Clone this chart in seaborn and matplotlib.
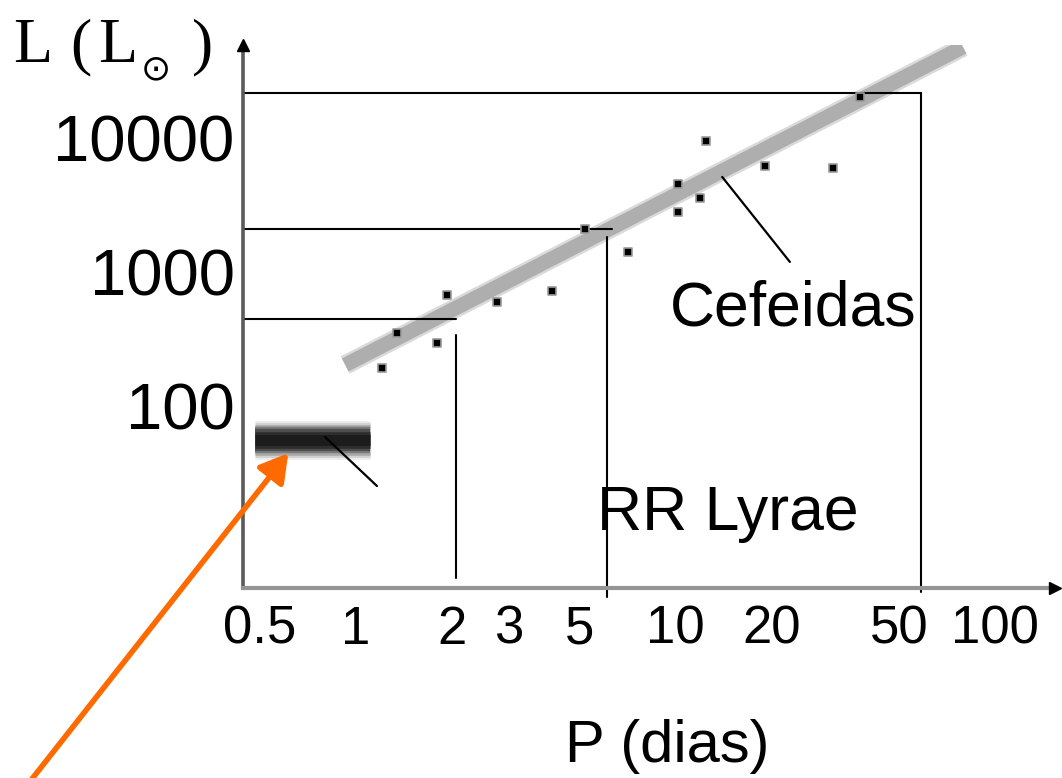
import matplotlib
matplotlib.use("Agg")
import matplotlib.pyplot as plt
from matplotlib.transforms import ScaledTranslation
import pandas as pd
import seaborn as sns

# Cepheid period (days) and luminosity (solar units)
cepheid_period = [1.21, 1.34, 1.79, 1.93, 2.76, 4.10, 5.21, 7.10, 10.2, 10.2, 11.9, 12.5, 19.1, 31.1, 37.8]
cepheid_lum = [217, 395, 333, 760, 673, 813, 2360, 1590, 5120, 3160, 4020, 10700, 6970, 6730, 22800]

# Period-luminosity trend for the Cepheids
trend_period = [0.925, 79.4]
trend_lum = [228, 53800]

# RR Lyrae strip
rr_period = [0.483, 1.106]
rr_lum = [63, 63]

# Read-off guides: luminosity level -> period
guide_lum = [24400, 2360, 502]
guide_period_h = [58.6, 6.33, 2.06]
guide_period_v = [58.6, 6.1, 2.06]
guide_v_top = [24400, 2056, 382]
guide_v_bottom = [4.6, 4.24, 5.87]

# Label pointers
cef_ptr_period = [14.0, 22.8]
cef_ptr_lum = [5770, 1340]
rr_ptr_period = [0.80, 1.163]
rr_ptr_lum = [66.2, 28.5]

x_ticks = [0.5, 1, 2, 3, 5, 10, 20, 50, 100]
x_ticklabels = ["0.5", "1", "2", "3", "5", "10", "20", "50", "100"]
y_ticks = [100, 1000, 10000]
y_ticklabels = ["100", "1000", "10000"]

sns.set_theme(style="white")
plt.rcParams["font.family"] = ["Liberation Sans", "DejaVu Sans"]
plt.rcParams["text.color"] = "black"

W, H = 1062, 778
fig = plt.figure(figsize=(W / 100, H / 100), dpi=100)
fig.patch.set_facecolor("white")


def fx(x):
    return x / W


def fy(y):
    return 1 - y / H


ax = fig.add_axes([fx(243), fy(588), (1055 - 243) / W, (588 - 45) / H])
ax.set_facecolor("white")
ax.set_xscale("log")
ax.set_yscale("log")
ax.set_xlim(0.4428, 154.1)
ax.set_ylim(4.94, 55700)

# Trend band
trend_df = pd.DataFrame({"P": trend_period, "L": trend_lum})
sns.lineplot(data=trend_df, x="P", y="L", ax=ax, color="#dadada", lw=14, solid_capstyle="butt", zorder=2)
sns.lineplot(data=trend_df, x="P", y="L", ax=ax, color="#aeaeae", lw=10.5, solid_capstyle="butt", zorder=2)

# RR Lyrae strip, soft edges built from stacked strokes
rr_df = pd.DataFrame({"P": rr_period, "L": rr_lum})
for lw, col in [(28, "#ececec"), (25, "#d0d0d0"), (22, "#a8a8a8"), (19, "#7a7a7a"),
                (16, "#4e4e4e"), (12, "#2e2e2e"), (8, "#1c1c1c")]:
    sns.lineplot(data=rr_df, x="P", y="L", ax=ax, color=col, lw=lw, solid_capstyle="butt", zorder=2)

# Cepheid measurements
cep_df = pd.DataFrame({"P": cepheid_period, "L": cepheid_lum})
sns.scatterplot(data=cep_df, x="P", y="L", ax=ax, marker="s", s=40, color="black",
                edgecolor="#9a9a9a", linewidth=1.2, zorder=4)

# Guide lines
xmin = ax.get_xlim()[0]
for lum, ph, pv, top, bot in zip(guide_lum, guide_period_h, guide_period_v, guide_v_top, guide_v_bottom):
    ax.plot([xmin, ph], [lum, lum], color="black", lw=1.5, zorder=3, clip_on=False)
    ax.plot([pv, pv], [bot, top], color="black", lw=1.5, zorder=3, clip_on=False)

# Pointers to labels
ax.plot(cef_ptr_period, cef_ptr_lum, color="black", lw=1.6, zorder=3)
ax.plot(rr_ptr_period, rr_ptr_lum, color="black", lw=1.6, zorder=3)

# Axes styling
for side in ["top", "right"]:
    ax.spines[side].set_visible(False)
ax.spines["left"].set_color("#5a5a5a")
ax.spines["left"].set_linewidth(2.6)
ax.spines["bottom"].set_color("#959595")
ax.spines["bottom"].set_linewidth(3.0)
ax.spines["left"].set_zorder(5)
ax.spines["bottom"].set_zorder(5)

ax.set_xticks(x_ticks)
ax.set_xticklabels(x_ticklabels)
ax.set_yticks(y_ticks)
ax.set_yticklabels(y_ticklabels)
ax.minorticks_off()
ax.tick_params(axis="x", direction="in", length=20, width=2.0, color="#8c8c8c",
               labelsize=38, pad=12, labelcolor="black")
ax.tick_params(axis="y", direction="in", length=20, width=2.0, color="#7a7a7a",
               labelsize=47, pad=6, labelcolor="black")
ax.xaxis.get_major_ticks()[0].tick1line.set_visible(False)
for lab in ax.get_yticklabels():
    lab.set_transform(lab.get_transform() + ScaledTranslation(0, 7 / 100, fig.dpi_scale_trans))
ax.set_xlabel("")
ax.set_ylabel("")

# Arrowheads at axis ends
ax.plot([0], [1], marker="^", color="black", markersize=9, transform=ax.transAxes, clip_on=False, zorder=6)
ax.plot([1], [0], marker=">", color="black", markersize=9, transform=ax.transAxes, clip_on=False, zorder=6)

# Axis titles
serif = ["Liberation Serif", "DejaVu Serif"]
fig.text(fx(13), fy(62), "L", family=serif, fontsize=46, va="baseline", ha="left", color="black")
fig.text(fx(70), fy(62), "(", family=serif, fontsize=46, va="baseline", ha="left", color="black")
fig.text(fx(98), fy(62), "L", family=serif, fontsize=46, va="baseline", ha="left", color="black")
fig.text(fx(156), fy(69), "\u2299", family=["DejaVu Sans"], fontsize=26, va="center", ha="center",
         color="black")
fig.text(fx(192), fy(62), ")", family=serif, fontsize=46, va="baseline", ha="left", color="black")
fig.text(fx(565), fy(762), "P (dias)", fontsize=43, va="baseline", ha="left", color="black")

# Group labels
fig.text(fx(670), fy(325), "Cefeidas", fontsize=45, va="baseline", ha="left", color="black")
fig.text(fx(597), fy(530), "RR Lyrae", fontsize=45, va="baseline", ha="left", color="black")

# Highlight arrow toward the RR Lyrae strip
fig.patches.append(matplotlib.patches.FancyArrowPatch(
    (fx(28), fy(784)), (fx(290), fy(451)), transform=fig.transFigure,
    arrowstyle="-|>,head_length=1.2,head_width=0.7", mutation_scale=14,
    color="#ff6a00", lw=4, zorder=10))

fig.savefig("out.png", dpi=100, facecolor="white")
